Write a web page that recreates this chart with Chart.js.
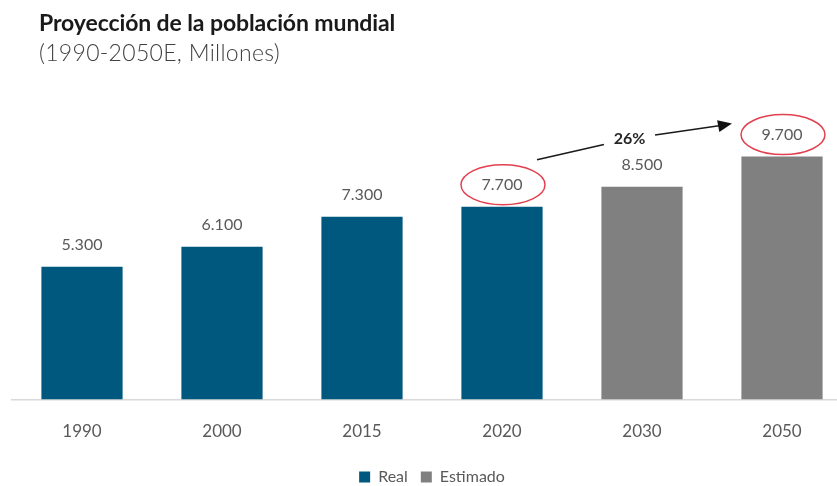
<!DOCTYPE html>
<html>
<head>
<meta charset="utf-8">
<script src="https://cdn.jsdelivr.net/npm/chart.js@4.4.0/dist/chart.umd.min.js"></script>
<style>
  html, body { margin: 0; padding: 0; background: #fff; overflow: hidden; }
  #wrap { position: relative; width: 837px; height: 486px; overflow: hidden; }
  #title { position: absolute; left: 39px; top: 9px; font-family: Lato, sans-serif; font-weight: bold; font-size: 23px; letter-spacing: -0.1px; color: #1a1a1a; line-height: 1.2; white-space: nowrap; }
  #subtitle { position: absolute; left: 39px; top: 39px; font-family: Lato, sans-serif; font-weight: 300; font-size: 23px; letter-spacing: 0.3px; color: #404040; line-height: 1.2; white-space: nowrap; }
</style>
</head>
<body>
<div id="wrap">
  <canvas id="chart" width="852" height="486"></canvas>
  <div id="title">Proyección de la población mundial</div>
  <div id="subtitle">(1990-2050E, Millones)</div>
</div>
<script>
// datos
const years = ['1990', '2000', '2015', '2020', '2030', '2050'];
const real = [5300, 6100, 7300, 7700, null, null];
const estimado = [null, null, null, null, 8500, 9700];
const circled = ['2020', '2050'];
const growthLabel = '26%';

function fmt(v) {
  return String(v).replace(/\B(?=(\d{3})+(?!\d))/g, '.');
}

// etiquetas de valor, elipses y flecha
const annotations = {
  id: 'annotations',
  afterDatasetsDraw(chart) {
    const c = chart.ctx;
    const pos = {};
    c.save();
    c.font = '16px Lato, sans-serif';
    c.fillStyle = '#595959';
    c.textAlign = 'center';
    c.textBaseline = 'middle';
    chart.data.datasets.forEach((ds, di) => {
      chart.getDatasetMeta(di).data.forEach((bar, i) => {
        if (ds.data[i] == null) return;
        const y = bar.y - 22;
        c.fillText(fmt(ds.data[i]), bar.x, y);
        pos[years[i]] = { x: bar.x, y: y };
      });
    });
    c.strokeStyle = '#e2404f';
    c.lineWidth = 1.5;
    circled.forEach(k => {
      const p = pos[k];
      c.beginPath();
      c.ellipse(p.x + 1, p.y, 42, 20, 0, 0, Math.PI * 2);
      c.stroke();
    });
    // flecha
    const a = pos[circled[0]], b = pos[circled[1]];
    const x1 = a.x + 35, y1 = a.y - 25;
    const x2 = b.x - 50, y2 = b.y - 11;
    const mx = (x1 + x2) / 2 - 5, my = (y1 + y2) / 2 - 2;
    c.strokeStyle = '#1a1a1a';
    c.lineWidth = 1.5;
    const ang = Math.atan2(y2 - y1, x2 - x1);
    const gap = 26;
    c.beginPath();
    c.moveTo(x1, y1);
    c.lineTo(mx - gap * Math.cos(ang), my - gap * Math.sin(ang));
    c.moveTo(mx + gap * Math.cos(ang), my + gap * Math.sin(ang));
    c.lineTo(x2 - 8 * Math.cos(ang), y2 - 8 * Math.sin(ang));
    c.stroke();
    c.fillStyle = '#111';
    c.beginPath();
    c.moveTo(x2, y2);
    c.lineTo(x2 - 14 * Math.cos(ang) + 6 * Math.sin(ang), y2 - 14 * Math.sin(ang) - 6 * Math.cos(ang));
    c.lineTo(x2 - 14 * Math.cos(ang) - 6 * Math.sin(ang), y2 - 14 * Math.sin(ang) + 6 * Math.cos(ang));
    c.closePath();
    c.fill();
    c.font = 'bold 16px Lato, sans-serif';
    c.fillStyle = '#262626';
    c.fillText(growthLabel, mx, my - 1);
    c.restore();
  }
};

new Chart(document.getElementById('chart'), {
  type: 'bar',
  data: {
    labels: years,
    datasets: [
      { label: 'Real', data: real, backgroundColor: '#00587e' },
      { label: 'Estimado', data: estimado, backgroundColor: '#808080' }
    ]
  },
  options: {
    responsive: false,
    animation: false,
    barPercentage: 0.58,
    categoryPercentage: 1,
    layout: { padding: { left: 12, right: 0, top: 99, bottom: -9 } },
    scales: {
      x: {
        stacked: true,
        grid: { display: false },
        border: { display: true, color: '#d9d9d9', width: 1.5 },
        ticks: { color: '#595959', font: { family: 'Lato', size: 17 }, padding: 14 }
      },
      y: {
        stacked: true,
        display: false,
        min: 0,
        max: 12000
      }
    },
    plugins: {
      legend: {
        position: 'bottom',
        labels: {
          color: '#595959',
          font: { family: 'Lato', size: 16 },
          boxWidth: 11,
          boxHeight: 11,
          padding: 13
        }
      },
      tooltip: { enabled: false }
    }
  },
  plugins: [annotations]
});
</script>
</body>
</html>
